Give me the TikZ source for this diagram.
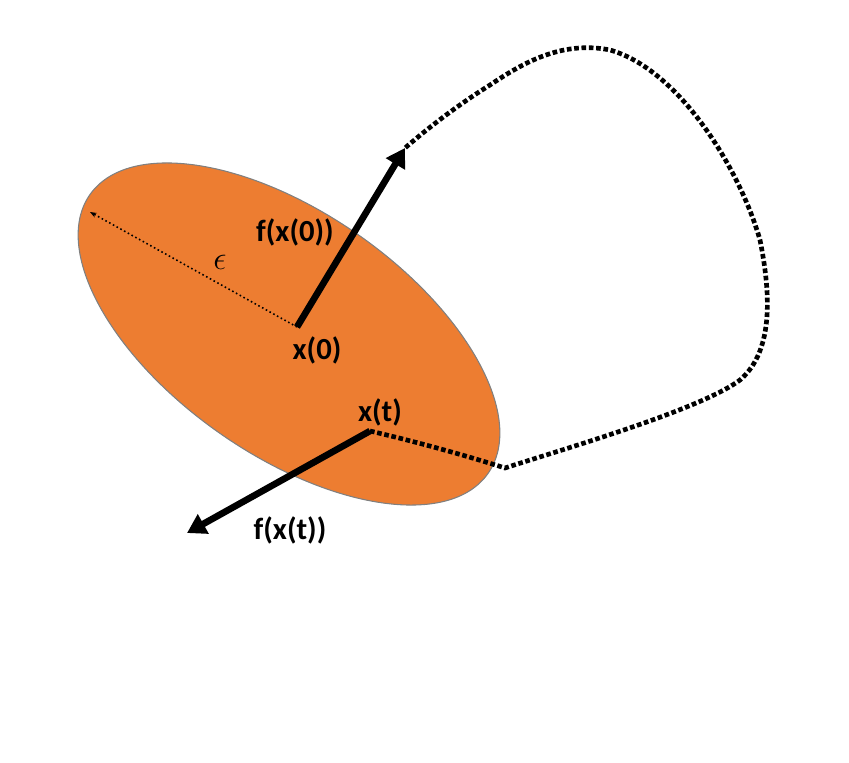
\documentclass[tikz,border=0pt]{standalone}
\usepackage{fontspec}
\setmainfont{Carlito}
\usetikzlibrary{arrows.meta}
\definecolor{orng}{HTML}{ED7D31}
\tikzset{lbl/.style={font=\bfseries\fontsize{23}{26}\selectfont},
 vec/.style={line width=5pt,-{Triangle[length=14pt,width=16pt]}},
 traj/.style={line width=3.5pt,dotted}}
\begin{document}
\begin{tikzpicture}[x=0.75pt,y=-0.75pt]
\useasboundingbox (0,0) rectangle (849,763);
\filldraw[fill=orng,draw=gray,line width=0.8pt,rotate around={-35:(289,334)}] (289,334) ellipse (243 and 121);
\coordinate (c0) at (297,327);
\coordinate (ct) at (370,431);
\coordinate (tip0) at (405,148);
\coordinate (tipt) at (187,533);
\coordinate (rim) at (90,212);
\draw[traj] (ct) .. controls (430,445) and (480,460) .. (505,468)
  .. controls (560,450) and (700,410) .. (740,380)
  .. controls (775,350) and (770,290) .. (760,240)
  .. controls (740,170) and (680,70) .. (610,50)
  .. controls (560,40) and (520,65) .. (490,85)
  .. controls (450,110) and (420,135) .. (tip0);
\draw[dotted,line width=1.2pt,-{Stealth[length=5pt]}] (c0) -- (rim);
\draw[vec] (c0) -- (tip0);
\draw[vec] (ct) -- (tipt);
\node[lbl] (l0) at (295,232) {f(x(0))};
\node[lbl] (lx0) at (317,350) {x(0)};
\node[lbl] (lxt) at (380,412) {x(t)};
\node[lbl] (lt) at (290,530) {f(x(t))};
\node[font=\fontsize{24}{26}\selectfont] (eps) at (220,262) {$\epsilon$};
\end{tikzpicture}
\end{document}
